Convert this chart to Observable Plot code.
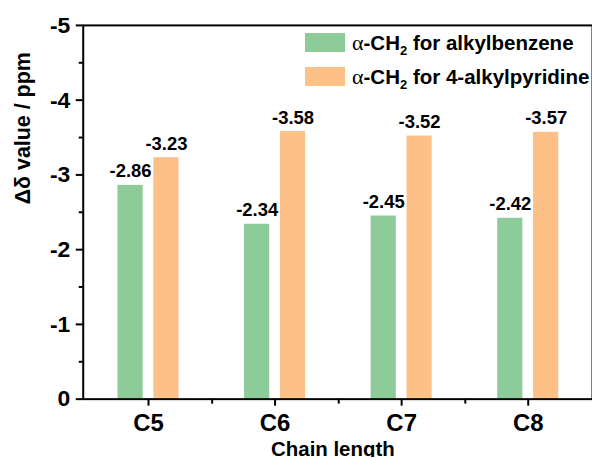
<!DOCTYPE html>
<html><head><meta charset="utf-8">
<script src="https://cdn.jsdelivr.net/npm/d3@7"></script>
<script src="https://cdn.jsdelivr.net/npm/@observablehq/plot@0.6"></script>
<style>
html,body{margin:0;padding:0;background:#fff;overflow:hidden;}
#wrap{position:relative;width:592px;height:459px;overflow:hidden;}
#wrap svg{display:block;}
.legend{position:absolute;left:305px;top:33px;font-family:"Liberation Sans",Arial,sans-serif;font-weight:bold;font-size:20.5px;color:#000;}
.row{display:flex;align-items:center;height:19px;margin-bottom:15px;white-space:nowrap;}
.sw{width:40px;height:19px;margin-right:7px;flex:none;}
.alpha{font-family:"Liberation Serif",serif;font-weight:normal;font-size:22px;}
.sub{font-size:13px;position:relative;top:5px;}
</style></head><body><div id="wrap"></div>
<script>
const categories = ["C5", "C6", "C7", "C8"];
const seriesNames = ["α-CH2 for alkylbenzene", "α-CH2 for 4-alkylpyridine"];
const benzene = [-2.86, -2.34, -2.45, -2.42];
const pyridine = [-3.23, -3.58, -3.52, -3.57];
const yTicks = [0, -1, -2, -3, -4, -5];
const yMinor = [-0.5, -1.5, -2.5, -3.5, -4.5];
const colors = ["#8DCB99", "#FDC086"];

const W = 594, H = 459, ML = 83, MR = 0, MT = 25, MB = 59;
const band = (W - ML - MR) / categories.length;
const barW = 26;
const ins = (band - barW) / 2;

const rowsB = categories.map((c, i) => ({cat: c, v: benzene[i]}));
const rowsP = categories.map((c, i) => ({cat: c, v: pyridine[i]}));

const font = {fontWeight: "bold"};
const plot = Plot.plot({
  width: W, height: H,
  marginLeft: ML, marginRight: MR, marginTop: MT, marginBottom: MB,
  style: {fontFamily: "'Liberation Sans', Arial, sans-serif", fontWeight: "bold", color: "#000", background: "#fff"},
  x: {domain: categories, padding: 0},
  y: {domain: [0, -5]},
  marks: [
    Plot.barY(rowsB, {x: "cat", y: "v", fill: colors[0], insetLeft: ins, insetRight: ins, dx: -18}),
    Plot.barY(rowsP, {x: "cat", y: "v", fill: colors[1], insetLeft: ins, insetRight: ins, dx: 18}),
    Plot.text(rowsB, {x: "cat", y: "v", text: d => d.v.toFixed(2), dx: -18, dy: -8, lineAnchor: "bottom", fontSize: 18.5, ...font}),
    Plot.text(rowsP, {x: "cat", y: "v", text: d => d.v.toFixed(2), dx: 18, dy: -8, lineAnchor: "bottom", fontSize: 18.5, ...font}),
    Plot.frame({stroke: "#000", strokeWidth: 2}),
    Plot.axisY({ticks: yTicks, tickSize: 7, tickPadding: 6, tickFormat: d => String(d), fontSize: 23, label: null, strokeWidth: 2, ...font}),
    Plot.axisY({ticks: yMinor, tickSize: 4, tickFormat: () => "", label: null, strokeWidth: 2}),
    Plot.axisX({tickSize: 7, tickPadding: 8, fontSize: 24, label: null, strokeWidth: 2, ...font}),
    Plot.axisX(categories.slice(0, 3), {tickSize: 5, tickFormat: () => "", label: null, strokeWidth: 2, dx: band / 2}),
    Plot.text([0], {frameAnchor: "left", text: () => "Δδ value / ppm", rotate: -90, dx: -60, dy: -8, fontSize: 21.5, ...font}),
    Plot.text([0], {frameAnchor: "bottom", text: () => "Chain length", dx: -5, dy: 42, lineAnchor: "top", fontSize: 20.5, ...font})
  ]
});
const wrap = document.getElementById("wrap");
wrap.appendChild(plot);

const legend = document.createElement("div");
legend.className = "legend";
seriesNames.forEach((name, i) => {
  const row = document.createElement("div");
  row.className = "row";
  const sw = document.createElement("div");
  sw.className = "sw";
  sw.style.background = colors[i];
  row.appendChild(sw);
  const label = document.createElement("span");
  const rest = name.slice(5);
  label.innerHTML = '<span class="alpha">α</span>-CH<span class="sub">2</span>' + rest;
  row.appendChild(label);
  legend.appendChild(row);
});
wrap.appendChild(legend);
</script>
</body></html>
